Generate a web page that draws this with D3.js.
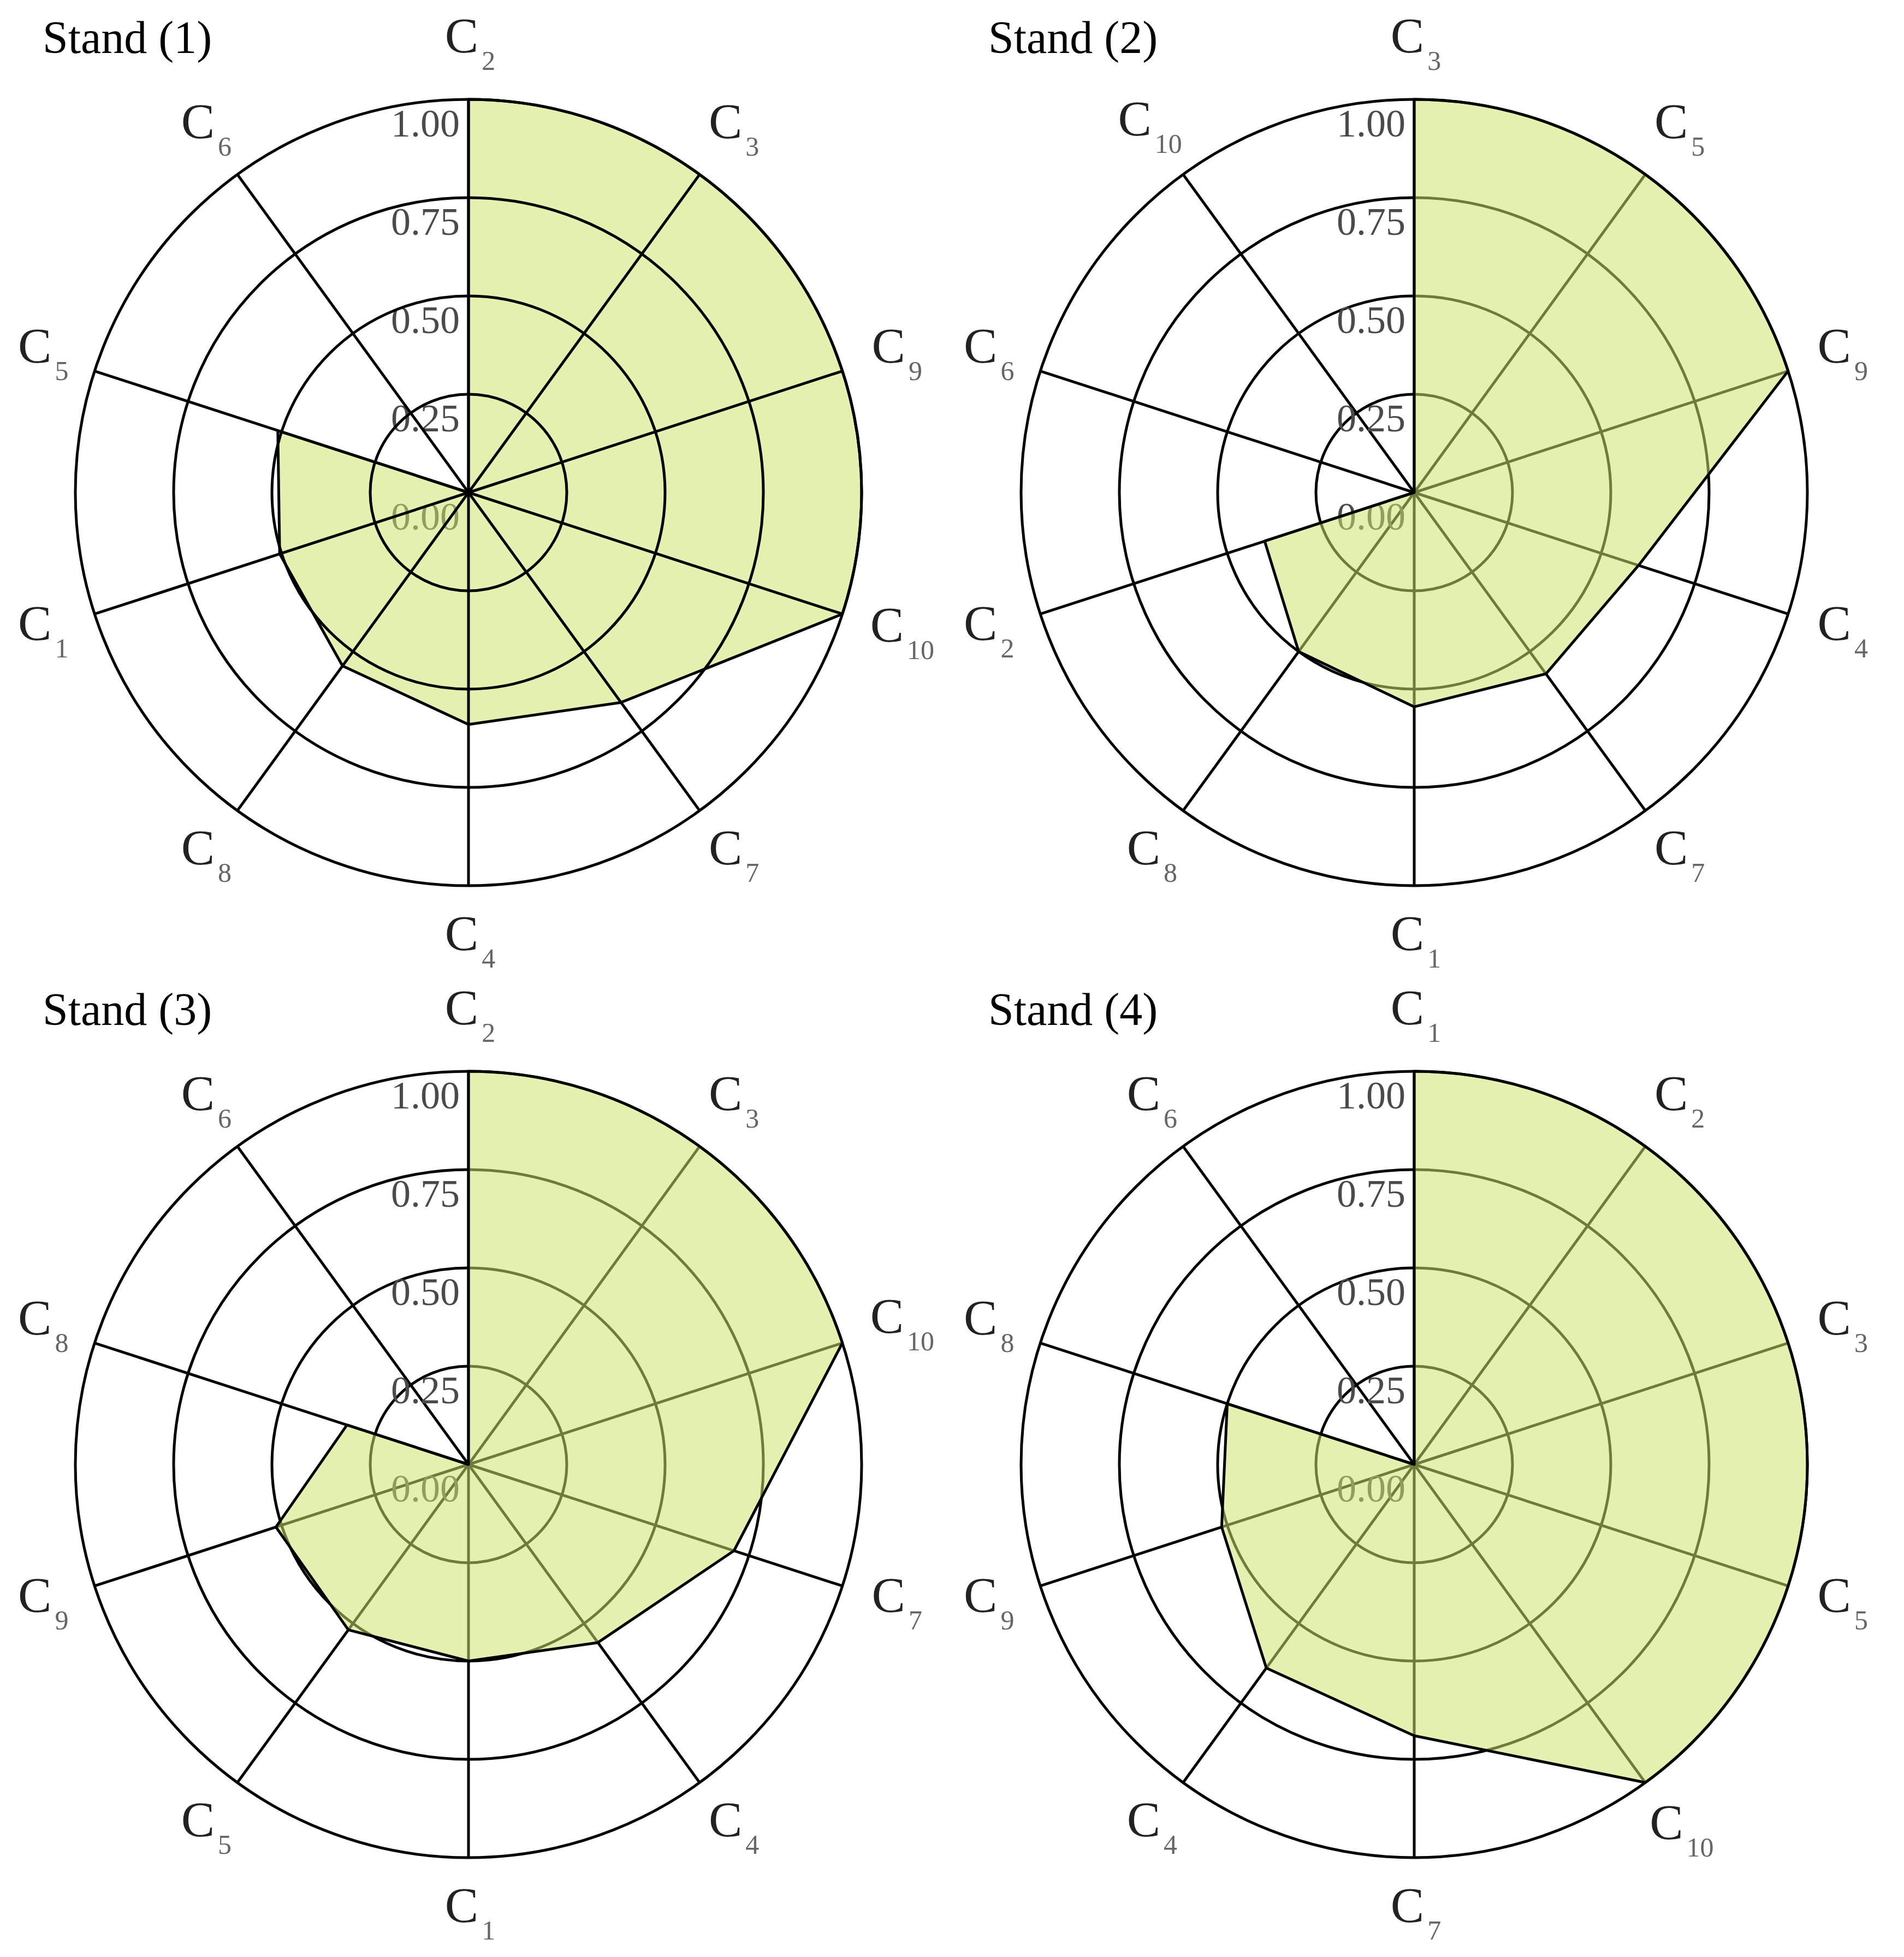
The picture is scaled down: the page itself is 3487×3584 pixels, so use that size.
<!DOCTYPE html>
<html>
<head>
<meta charset="utf-8">
<script src="https://cdn.jsdelivr.net/npm/d3@7"></script>
<style>
  body { margin: 0; background: #fff; }
  text { font-family: "Liberation Serif", "Times New Roman", serif; }
</style>
</head>
<body>
<svg id="chart" width="3487" height="3584"></svg>
<script>
const titles = ['Stand (1)', 'Stand (2)', 'Stand (3)', 'Stand (4)'];

// criteria, clockwise from the top, and their scores for each stand
const axes1   = ['C2', 'C3', 'C9', 'C10', 'C7', 'C4', 'C8', 'C1', 'C5', 'C6'];
const values1 = [1, 1, 1, 1, 0.66, 0.59, 0.545, 0.505, 0.51, 0];

const axes2   = ['C3', 'C5', 'C9', 'C4', 'C7', 'C1', 'C8', 'C2', 'C6', 'C10'];
const values2 = [1, 1, 1, 0.60, 0.57, 0.545, 0.50, 0.40, 0, 0];

const axes3   = ['C2', 'C3', 'C10', 'C7', 'C4', 'C1', 'C5', 'C9', 'C8', 'C6'];
const values3 = [1, 1, 1, 0.71, 0.56, 0.50, 0.52, 0.515, 0.325, 0];

const axes4   = ['C1', 'C2', 'C3', 'C5', 'C10', 'C7', 'C4', 'C9', 'C8', 'C6'];
const values4 = [1, 1, 1, 1, 1, 0.69, 0.64, 0.515, 0.50, 0];

const tickValues = [0, 0.25, 0.5, 0.75, 1];
const tickLabels = ['0.00', '0.25', '0.50', '0.75', '1.00'];

const svg = d3.select('#chart');
const R = 720;
const rScale = d3.scaleLinear().domain([0, 1]).range([0, R]);

const panels = [
  { title: titles[0], axes: axes1, values: values1, gridOnTop: true,  cx: 858,  cy: 902 },
  { title: titles[1], axes: axes2, values: values2, gridOnTop: false, cx: 2590, cy: 902 },
  { title: titles[2], axes: axes3, values: values3, gridOnTop: false, cx: 858,  cy: 2682 },
  { title: titles[3], axes: axes4, values: values4, gridOnTop: false, cx: 2590, cy: 2682 }
];

const render = p => {
  const n = p.axes.length;
  const angle = d3.scaleLinear().domain([0, n]).range([0, 2 * Math.PI]);

  svg.append('text')
    .attr('x', p.cx - 780)
    .attr('y', p.cy - 805)
    .attr('font-size', 84)
    .attr('fill', '#000')
    .text(p.title);

  const root = svg.append('g')
    .attr('transform', `translate(${p.cx}, ${p.cy})`);

  const drawGrid = () => {
    const grid = root.append('g')
      .attr('stroke', '#000')
      .attr('stroke-width', 5)
      .attr('fill', 'none');
    grid.selectAll('circle')
      .data(tickValues.slice(1))
      .join('circle')
      .attr('r', d => rScale(d));
    grid.selectAll('line')
      .data(p.axes)
      .join('line')
      .attr('x2', (d, j) => rScale(1) * Math.sin(angle(j)))
      .attr('y2', (d, j) => -rScale(1) * Math.cos(angle(j)));
  };

  const drawTicks = () => {
    root.append('g')
      .selectAll('text')
      .data(tickValues)
      .join('text')
      .attr('x', -16)
      .attr('y', d => -rScale(d) + 68)
      .attr('text-anchor', 'end')
      .attr('font-size', 72)
      .attr('fill', '#4a4a4a')
      .text((d, j) => tickLabels[j]);
  };

  // polygon: straight edges, but follows the outer ring between two full scores
  const shape = d3.path();
  p.values.forEach((v, j) => {
    const a = angle(j);
    const x = rScale(v) * Math.sin(a);
    const y = -rScale(v) * Math.cos(a);
    if (j === 0) shape.moveTo(x, y);
    else if (v === 1 && p.values[j - 1] === 1)
      shape.arc(0, 0, rScale(1), angle(j - 1) - Math.PI / 2, a - Math.PI / 2);
    else shape.lineTo(x, y);
  });
  if (p.values[n - 1] === 1 && p.values[0] === 1)
    shape.arc(0, 0, rScale(1), angle(n - 1) - Math.PI / 2, angle(n) - Math.PI / 2);
  shape.closePath();

  const drawFill = () => {
    root.append('path')
      .attr('d', shape.toString())
      .attr('fill', 'rgb(205, 227, 108)')
      .attr('fill-opacity', 0.54)
      .attr('stroke', 'none');
  };

  if (p.gridOnTop) { drawTicks(); drawFill(); drawGrid(); }
  else { drawGrid(); drawTicks(); drawFill(); }

  root.append('path')
    .attr('d', shape.toString())
    .attr('fill', 'none')
    .attr('stroke', '#000')
    .attr('stroke-width', 5)
    .attr('stroke-linejoin', 'round');

  // axis names: "C" with a subscript number
  p.axes.forEach((name, j) => {
    const a = angle(j);
    const label = root.append('text')
      .attr('font-size', 92)
      .attr('fill', '#222');
    label.append('tspan').text(name.slice(0, 1));
    label.append('tspan')
      .attr('font-size', 50)
      .attr('fill', '#666')
      .attr('dx', 6)
      .attr('dy', 32)
      .text(name.slice(1));
    const w = label.node().getComputedTextLength();
    const dist = 822 + Math.max(0, w - 90) / 2 * Math.abs(Math.sin(a));
    const tx = dist * Math.sin(a);
    const ty = -dist * Math.cos(a);
    label.attr('x', tx - w / 2).attr('y', ty + 16);
  });
};

panels.forEach(render);
</script>
</body>
</html>
